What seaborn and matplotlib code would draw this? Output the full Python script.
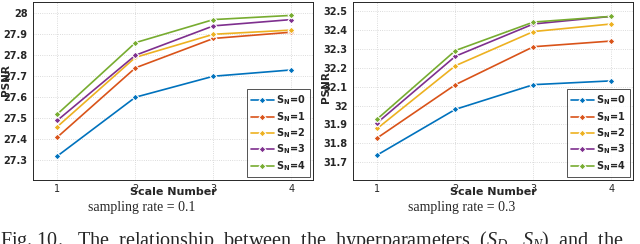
import pandas as pd
import matplotlib.pyplot as plt
import seaborn as sns

# PSNR vs scale number for each S_N, two sampling rates
scales = [1, 2, 3, 4]
sn_labels = ['S$_\\mathsf{N}$=0', 'S$_\\mathsf{N}$=1', 'S$_\\mathsf{N}$=2',
             'S$_\\mathsf{N}$=3', 'S$_\\mathsf{N}$=4']

psnr_01 = [
    [27.32, 27.60, 27.70, 27.73],
    [27.41, 27.74, 27.88, 27.91],
    [27.46, 27.79, 27.90, 27.92],
    [27.49, 27.80, 27.94, 27.97],
    [27.52, 27.86, 27.97, 27.99],
]
psnr_03 = [
    [31.74, 31.98, 32.11, 32.13],
    [31.83, 32.11, 32.31, 32.34],
    [31.88, 32.21, 32.39, 32.43],
    [31.91, 32.26, 32.43, 32.47],
    [31.93, 32.29, 32.44, 32.47],
]

matlab_colors = ['#0072BD', '#D95319', '#EDB120', '#7E2F8E', '#77AC30']


def to_long(values):
    rows = []
    for lab, series in zip(sn_labels, values):
        for s, v in zip(scales, series):
            rows.append({'Scale': s, 'PSNR': v, 'SN': lab})
    return pd.DataFrame(rows)


sns.set_style('white')
plt.rcParams['font.family'] = ['DejaVu Sans']
# serif italics for the caption maths, bold sans for the legend subscripts
plt.rcParams['mathtext.fontset'] = 'custom'
plt.rcParams['mathtext.rm'] = 'Liberation Serif'
plt.rcParams['mathtext.it'] = 'Liberation Serif:italic'
plt.rcParams['mathtext.sf'] = 'DejaVu Sans:bold'

fig = plt.figure(figsize=(6.4, 2.44), dpi=100)

panels = [
    (to_long(psnr_01), 0.052, (27.205, 28.054), [27.3, 27.4, 27.5, 27.6, 27.7, 27.8, 27.9, 28.0],
     ['27.3', '27.4', '27.5', '27.6', '27.7', '27.8', '27.9', '28'], 0.56, 'sampling rate = 0.1'),
    (to_long(psnr_03), 0.552, (31.607, 32.546), [31.7, 31.8, 31.9, 32.0, 32.1, 32.2, 32.3, 32.4, 32.5],
     ['31.7', '31.8', '31.9', '32', '32.1', '32.2', '32.3', '32.4', '32.5'], 0.52, 'sampling rate = 0.3'),
]

for df, left, ylim, yticks, yticklabels, ylab_y, subcap in panels:
    ax = fig.add_axes([left, 0.262, 0.4375, 0.73])
    sns.lineplot(data=df, x='Scale', y='PSNR', hue='SN', palette=matlab_colors,
                 marker='D', markersize=3.5, markeredgewidth=0.8, linewidth=1.2,
                 ax=ax)
    ax.set_xlim(0.69, 4.28)
    ax.set_ylim(*ylim)
    ax.set_xticks(scales)
    ax.set_xticklabels(['1', '2', '3', '4'], fontsize=7)
    ax.set_yticks(yticks)
    ax.set_yticklabels(yticklabels, fontsize=7, fontweight='bold', color='#262626')
    ax.tick_params(axis='x', length=2, pad=1, labelcolor='#262626')
    ax.tick_params(axis='y', length=2, pad=2)
    ax.grid(True, linestyle=':', linewidth=0.6, color='#d0d0d0')
    for sp in ax.spines.values():
        sp.set_color('#262626')
        sp.set_linewidth(0.7)
    ax.set_xlabel('')
    ax.set_ylabel('PSNR', fontsize=7.5, fontweight='bold', color='#262626')
    ax.yaxis.set_label_coords(-0.078, ylab_y)
    ax.text(0.5, -0.065, 'Scale Number', transform=ax.transAxes, ha='center', va='center',
            fontsize=8, fontweight='bold', color='#262626')
    leg = ax.legend(loc='lower right', frameon=True, fancybox=False,
                    handlelength=2.3, borderpad=0.45, labelspacing=0.3, handletextpad=0.3,
                    borderaxespad=0.3, prop={'weight': 'bold', 'size': 7})
    leg.get_frame().set_edgecolor('#262626')
    leg.get_frame().set_linewidth(0.7)
    cx = left + 0.4375 * 0.5 - 0.05
    fig.text(cx, 1 - 207 / 244, subcap, ha='center', va='center',
             fontsize=10, family='Liberation Serif')

fig.text(0.0, 1 - 229 / 244, 'Fig. 10.   The  relationship  between  the  hyperparameters  ($S_D$,  $S_N$)  and  the',
         ha='left', va='top', fontsize=14.5, family='Liberation Serif')

fig.savefig('out.png', dpi=100)
